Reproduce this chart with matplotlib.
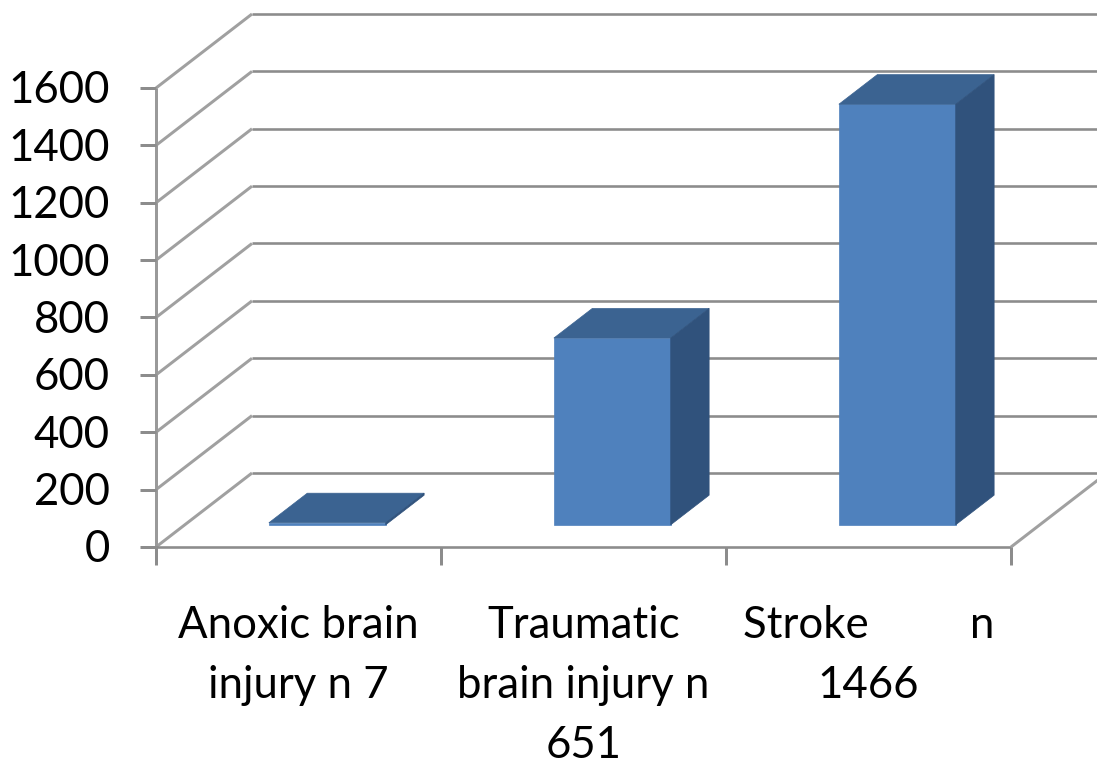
import numpy as np
import matplotlib
matplotlib.use('Agg')
import matplotlib.pyplot as plt
from matplotlib.patches import Polygon

categories = ['Anoxic brain\ninjury n 7', 'Traumatic\nbrain injury n\n651', 'Stroke         n\n1466']
values = [7, 651, 1466]
yticks = [0, 200, 400, 600, 800, 1000, 1200, 1400, 1600]

plt.rcParams['font.family'] = ['Lato', 'DejaVu Sans']
W, H = 1097, 760
fig = plt.figure(figsize=(W/100, H/100), dpi=100)
ax = fig.add_axes([156/W, 1-547/H, 855/W, 459/H])
ax.set_xlim(0, 3)
ax.set_ylim(0, 1600)
ax.axis('off')

# depth runs 0 (front) to 1 (back wall)
pxX = 285.0
pxY = 459/1600
depthX = 96/pxX
depthY = 74/pxY

def proj(x, y, d):
    return x+d*depthX, y+d*depthY

grey = '#8c8c8c'
def line(xs, ys, lw=2.6, c=grey):
    ax.plot(xs, ys, color=c, lw=lw*0.72, clip_on=False, solid_capstyle='butt', zorder=1)

# walls
for t in yticks:
    x0, y0 = proj(0, t, 0)
    x1, y1 = proj(0, t, 1)
    x2, y2 = proj(3, t, 1)
    line([x0, x1], [y0, y1], c='#a0a0a0', lw=3)
    line([x1, x2], [y1, y2])
line([0, 0], [0, 1600], lw=3, c='#9a9a9a')
line([0, 3], [0, 0])
x0, y0 = proj(3, 0, 1)
line([3, x0], [0, y0], c='#a0a0a0', lw=3)

# tick marks
for i in range(4):
    line([i, i], [0, -18/pxY], lw=3)
for t in yticks:
    line([-16/pxX, 0], [t, t], lw=3)

# bars
barW = 0.41
d0, d1 = 0.30, 0.70
front, top, side = '#4f81bd', '#3b6391', '#30527c'
for i, v in enumerate(values):
    left = i+0.5-barW/2
    right = left+barW
    ax.add_patch(Polygon([proj(left, 0, d0), proj(right, 0, d0), proj(right, v, d0), proj(left, v, d0)],
                         fc=front, ec=front, lw=0.5, clip_on=False, zorder=3))
    ax.add_patch(Polygon([proj(left, v, d0), proj(right, v, d0), proj(right, v, d1), proj(left, v, d1)],
                         fc=top, ec=top, lw=0.5, clip_on=False, zorder=3))
    ax.add_patch(Polygon([proj(right, 0, d0), proj(right, 0, d1), proj(right, v, d1), proj(right, v, d0)],
                         fc=side, ec=side, lw=0.5, clip_on=False, zorder=3))

for t in yticks:
    ax.text(-46/pxX, t-3/pxY, str(t), ha='right', va='center', fontsize=31.5, color='black', clip_on=False)
for i, c in enumerate(categories):
    ax.text(i+0.5, -58/pxY, c, ha='center', va='top', fontsize=31.5, color='black',
            linespacing=1.58, clip_on=False)

fig.savefig('out.png', dpi=100)
